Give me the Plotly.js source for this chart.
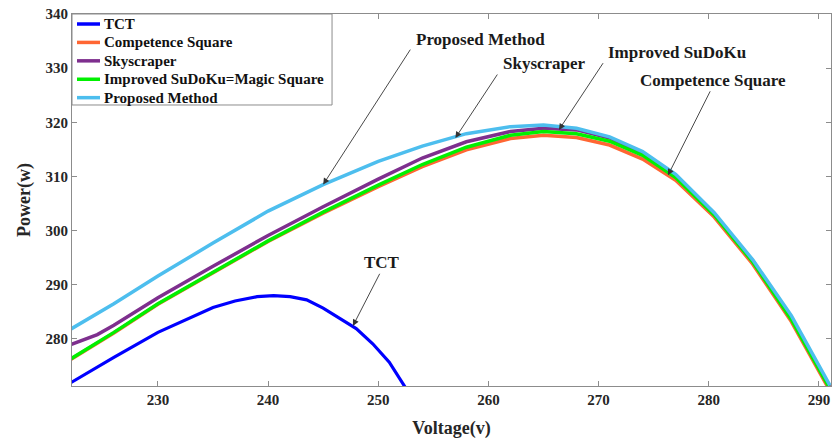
<!DOCTYPE html>
<html>
<head>
<meta charset="utf-8">
<script src="https://cdn.plot.ly/plotly-3.0.1.min.js"></script>
<style>html,body{margin:0;padding:0;background:#fff;}#chart{width:832px;height:441px;}</style>
</head>
<body>
<div id="chart"></div>
<script>
// ---- data ----
const tctX = [222, 226, 230, 233, 235, 237, 239, 240.5, 242, 243.5, 245, 246.5, 248, 249.5, 251, 252.5, 254];
const tctY = [271.8, 276.6, 281.2, 284.0, 285.8, 287.0, 287.8, 288.0, 287.8, 287.2, 285.7, 283.8, 281.9, 279.1, 275.7, 270.9, 265.5];

const vGrid = [222, 226, 230, 235, 240, 245, 250, 254, 258, 262, 265, 268, 271, 274, 277, 280.5, 284, 287.5, 291];
const compY = [276.1, 281.1, 286.4, 292.2, 298.0, 303.2, 308.1, 311.8, 314.9, 317.0, 317.6, 317.2, 315.8, 313.2, 309.3, 302.5, 293.8, 283.2, 270.4];
const sudokuY = [276.2, 281.2, 286.5, 292.3, 298.1, 303.4, 308.4, 312.2, 315.4, 317.6, 318.3, 317.9, 316.5, 313.9, 309.8, 302.9, 294.2, 283.6, 270.8];
const proposedY = [281.7, 286.5, 291.6, 297.7, 303.6, 308.5, 312.8, 315.6, 317.9, 319.2, 319.5, 318.9, 317.3, 314.6, 310.4, 303.3, 294.6, 284.3, 271.4];

const skyX = [222, 224.5, 226, 230, 235, 240, 245, 250, 254, 258, 262, 265, 268, 271, 274, 277, 280.5, 284, 287.5, 291];
const skyY = [278.9, 280.8, 282.5, 287.6, 293.4, 299.1, 304.4, 309.5, 313.4, 316.4, 318.3, 318.9, 318.6, 317.1, 314.4, 310.2, 303.1, 294.4, 283.9, 271.0];

const seriesNames = ["TCT", "Competence Square", "Skyscraper", "Improved SuDoKu=Magic Square", "Proposed Method"];
const seriesColors = ["#0000ff", "#ff6633", "#7e2f8e", "#00f000", "#4dbeee"];

// callout labels with arrows
const labelTexts = ["Proposed Method", "Skyscraper", "Improved SuDoKu", "Competence Square", "TCT"];
const labelTip = [[245, 308.5], [257.0, 317.1], [266.4, 318.6], [276.3, 310.2], [247.7, 282.4]];
const labelTail = [[253.0, 333.7], [260.9, 329.1], [270.5, 331.2], [280.2, 326.0], [250.2, 292.3]];
const labelPos = [[259.3, 335.2], [265.1, 330.8], [277.1, 332.8], [280.4, 327.8], [250.3, 294.1]];

const xTicks = [230, 240, 250, 260, 270, 280, 290];
const yTicks = [280, 290, 300, 310, 320, 330, 340];

const FONT = "Liberation Serif, Times New Roman, serif";

const xs = [tctX, vGrid, skyX, vGrid, vGrid];
const ys = [tctY, compY, skyY, sudokuY, proposedY];
const traces = seriesNames.map((n, i) => ({
  type: "scatter", mode: "lines", name: n,
  x: xs[i], y: ys[i],
  line: {color: seriesColors[i], width: i === 0 ? 3.2 : 3.5}
}));

const annotations = [];
const shapes = [];
labelTexts.forEach((t, i) => {
  annotations.push({
    x: labelTip[i][0], y: labelTip[i][1], xref: "x", yref: "y",
    ax: labelTail[i][0], ay: labelTail[i][1], axref: "x", ayref: "y",
    text: "", showarrow: true, arrowhead: 2, arrowsize: 1.4, arrowwidth: 0.9,
    arrowcolor: "#333"
  });
  annotations.push({
    x: labelPos[i][0], y: labelPos[i][1], xref: "x", yref: "y",
    text: t, showarrow: false,
    font: {family: FONT, size: 17, color: "#1a1a1a", weight: "bold"}
  });
});

// legend box (MATLAB-style, compact rows) built from the series names/colours
const legBox = {x0: 0, x1: 0.3426, y0: 0.7554, y1: 1};
shapes.push({type: "rect", xref: "paper", yref: "paper", x0: legBox.x0, x1: legBox.x1, y0: legBox.y0, y1: legBox.y1,
  line: {color: "#8c8c8c", width: 1}, fillcolor: "#fff", layer: "above"});
const rowTop = 0.9731, rowStep = 0.0495;
seriesNames.forEach((n, i) => {
  const yy = rowTop - i * rowStep;
  shapes.push({type: "line", xref: "paper", yref: "paper", x0: 0.0066, x1: 0.0369, y0: yy, y1: yy,
    line: {color: seriesColors[i], width: 3.5}, layer: "above"});
  annotations.push({xref: "paper", yref: "paper", x: 0.0400, y: yy, xanchor: "left", yanchor: "middle",
    text: n, showarrow: false, font: {family: FONT, size: 15, color: "#111", weight: "bold"}});
});

const axisCommon = {
  showline: true, linecolor: "#8c8c8c", linewidth: 1, mirror: "ticks",
  ticks: "inside", ticklen: 5, tickcolor: "#8c8c8c", showgrid: false, zeroline: false,
  tickfont: {family: FONT, size: 15, color: "#262626", weight: "bold"}
};

const layout = {
  width: 832, height: 441,
  margin: {l: 72, r: 1, t: 14, b: 55},
  paper_bgcolor: "#fff", plot_bgcolor: "#fff",
  showlegend: false,
  xaxis: Object.assign({}, axisCommon, {
    range: [222.2, 291.1], tickvals: xTicks,
    title: {text: "Voltage(v)", font: {family: FONT, size: 18, color: "#262626", weight: "bold"}, standoff: 14}
  }),
  yaxis: Object.assign({}, axisCommon, {
    range: [271.3, 340], tickvals: yTicks,
    title: {text: "Power(w)", font: {family: FONT, size: 18, color: "#262626", weight: "bold"}, standoff: 10}
  }),
  shapes: shapes,
  annotations: annotations
};

Plotly.newPlot("chart", traces, layout, {displayModeBar: false, staticPlot: true});
</script>
</body>
</html>
